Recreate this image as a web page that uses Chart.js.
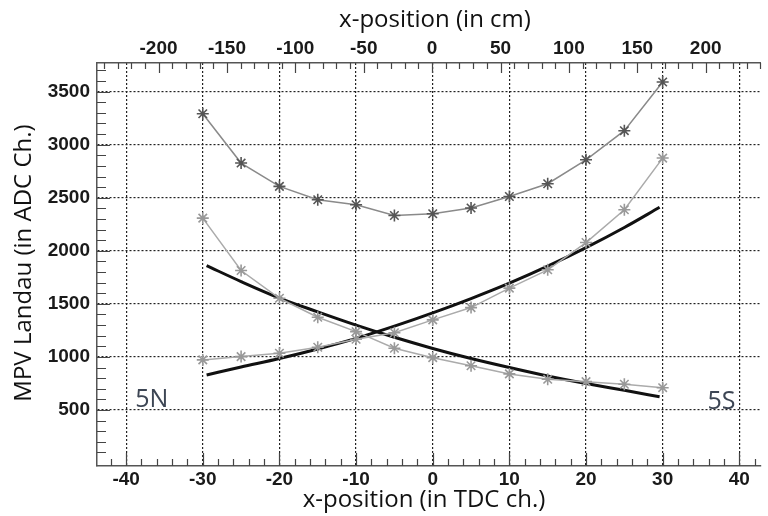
<!DOCTYPE html>
<html><head><meta charset="utf-8">
<script src="https://cdn.jsdelivr.net/npm/chart.js@4"></script>
<style>html,body{margin:0;padding:0;background:#fff}canvas{display:block}</style>
</head><body>
<canvas id="c" width="768" height="516"></canvas>
<script>
// ---- data ----
const tdcX      = [-30, -25, -20, -15, -10, -5, 0, 5, 10, 15, 20, 25, 30];
const sumMPV    = [3292, 2827, 2607, 2481, 2434, 2333, 2349, 2403, 2512, 2632, 2858, 3132, 3591];
const northMPV  = [2308, 1814, 1553, 1374, 1238, 1082, 993, 917, 840, 789, 767, 742, 710];
const southMPV  = [972, 1003, 1035, 1091, 1167, 1228, 1349, 1465, 1648, 1821, 2078, 2387, 2874];
const fitX      = [-29.5, -25, -20, -15, -10, -5, 0, 5, 10, 15, 20, 25, 29.6];
const fitNorth  = [1860, 1710, 1555, 1425, 1300, 1185, 1080, 985, 900, 820, 750, 685, 625];
const fitSouth  = [830, 905, 985, 1075, 1175, 1290, 1415, 1550, 1695, 1855, 2030, 2220, 2410];
const tdcTicks  = [-40, -30, -20, -10, 0, 10, 20, 30, 40];
const cmTicks   = [-200, -150, -100, -50, 0, 50, 100, 150, 200];
const mpvTicks  = [500, 1000, 1500, 2000, 2500, 3000, 3500];
const labelN = '5N', labelS = '5S';
const titleTop = 'x-position (in cm)';
const titleBottom = 'x-position (in TDC ch.)';
const titleLeft = 'MPV Landau (in ADC Ch.)';

const pts = (xs, ys) => xs.map((x, i) => ({x, y: ys[i]}));
const tickFont = {family: '"Liberation Sans", Arial, sans-serif', size: 19, weight: 'bold'};
const plain = v => String(v);

const decor = {
  id: 'decor',
  afterDraw(chart) {
    const ctx = chart.ctx, a = chart.chartArea;
    const sx = chart.scales.x, sy = chart.scales.y, s2 = chart.scales.x2;
    ctx.save();
    ctx.strokeStyle = '#444';
    ctx.lineWidth = 1.2;
    ctx.beginPath();
    for (let v = 100; v <= 3700; v += 100) {
      const p = Math.round(sy.getPixelForValue(v)) + 0.5;
      const len = v % 500 === 0 ? 13 : 9;
      ctx.moveTo(a.left, p); ctx.lineTo(a.left + len, p);
    }
    for (let v = -42; v <= 42; v += 2) {
      const p = Math.round(sx.getPixelForValue(v)) + 0.5;
      const len = v % 10 === 0 ? 13 : 7;
      ctx.moveTo(p, a.bottom); ctx.lineTo(p, a.bottom - len);
    }
    for (let v = -240; v <= 240; v += 10) {
      const p = Math.round(s2.getPixelForValue(v)) + 0.5;
      const len = v % 50 === 0 ? 10 : 6;
      ctx.moveTo(p, a.top); ctx.lineTo(p, a.top + len);
    }
    ctx.stroke();

    ctx.fillStyle = '#3d4654';
    ctx.font = '25px "Open Sans", sans-serif';
    ctx.textBaseline = 'alphabetic';
    ctx.textAlign = 'left';
    ctx.fillText(labelN, sx.getPixelForValue(-38.8), sy.getPixelForValue(528));
    ctx.textAlign = 'right';
    ctx.fillText(labelS, sx.getPixelForValue(39.5), sy.getPixelForValue(509));

    ctx.fillStyle = '#111';
    ctx.font = '24px "Open Sans", sans-serif';
    ctx.textAlign = 'center';
    ctx.textBaseline = 'middle';
    ctx.fillText(titleTop, 435, 20);
    ctx.fillText(titleBottom, 424, 500);
    ctx.translate(24, 263);
    ctx.rotate(-Math.PI / 2);
    ctx.fillText(titleLeft, 0, 0);
    ctx.restore();
  }
};

new Chart(document.getElementById('c'), {
  type: 'line',
  data: {
    datasets: [
      {data: pts(tdcX, sumMPV), borderColor: '#8a8a8a', borderWidth: 1.5,
       pointStyle: 'star', pointRadius: 6, pointBorderColor: '#555', pointBorderWidth: 1.6,
       pointBackgroundColor: '#555', tension: 0},
      {data: pts(tdcX, northMPV), borderColor: '#ababab', borderWidth: 1.5,
       pointStyle: 'star', pointRadius: 6, pointBorderColor: '#999', pointBorderWidth: 1.6,
       pointBackgroundColor: '#999', tension: 0},
      {data: pts(tdcX, southMPV), borderColor: '#ababab', borderWidth: 1.5,
       pointStyle: 'star', pointRadius: 6, pointBorderColor: '#999', pointBorderWidth: 1.6,
       pointBackgroundColor: '#999', tension: 0},
      {data: pts(fitX, fitNorth), borderColor: '#111', borderWidth: 3, pointRadius: 0,
       cubicInterpolationMode: 'monotone'},
      {data: pts(fitX, fitSouth), borderColor: '#111', borderWidth: 3, pointRadius: 0,
       cubicInterpolationMode: 'monotone'}
    ]
  },
  options: {
    responsive: false,
    animation: false,
    events: [],
    layout: {padding: 0},
    plugins: {legend: {display: false}, tooltip: {enabled: false}},
    scales: {
      x: {
        type: 'linear', position: 'bottom', min: -43.8, max: 42.75,
        afterBuildTicks: s => { s.ticks = tdcTicks.map(v => ({value: v})); },
        afterFit: s => { s.height = 50; },
        grid: {color: '#222', lineWidth: 1.2, drawTicks: false},
        border: {display: true, color: '#555', width: 1.5, dash: [2, 2]},
        ticks: {font: tickFont, color: '#1a1a1a', padding: 2, maxRotation: 0, autoSkip: false, callback: plain}
      },
      x2: {
        type: 'linear', position: 'top', min: -245, max: 240,
        afterBuildTicks: s => { s.ticks = cmTicks.map(v => ({value: v})); },
        afterFit: s => { s.height = 63; },
        grid: {display: false, drawTicks: false},
        border: {display: true, color: '#555', width: 1.5},
        ticks: {font: tickFont, color: '#1a1a1a', padding: 3, maxRotation: 0, autoSkip: false, callback: plain}
      },
      y: {
        type: 'linear', position: 'left', min: -28, max: 3770,
        afterBuildTicks: s => { s.ticks = mpvTicks.map(v => ({value: v})); },
        afterFit: s => { s.width = 97; },
        grid: {color: '#222', lineWidth: 1.2, drawTicks: false},
        border: {display: true, color: '#555', width: 1.5, dash: [2, 2]},
        ticks: {font: tickFont, color: '#1a1a1a', padding: 7, callback: plain}
      }
    }
  },
  plugins: [decor]
});
</script>
</body></html>
